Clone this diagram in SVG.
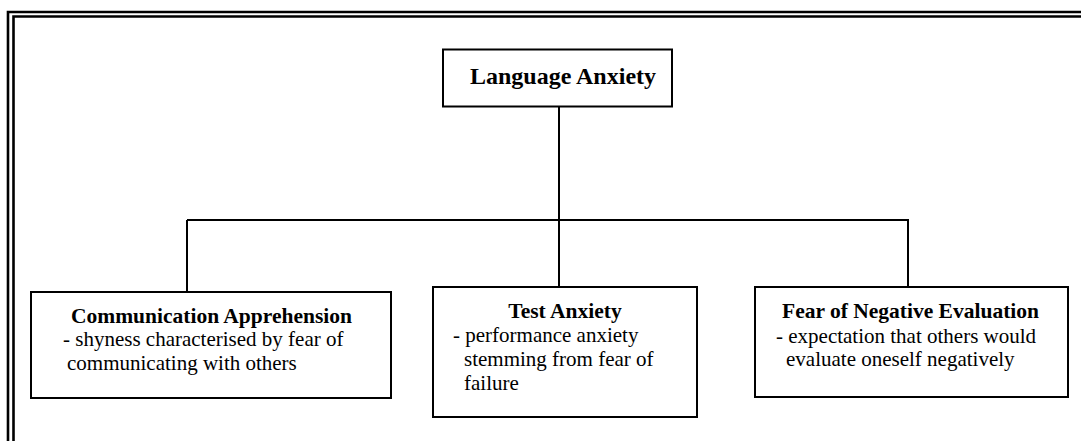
<svg xmlns="http://www.w3.org/2000/svg" width="1081" height="441" viewBox="0 0 1081 441">
<style>
.box{fill:#fff;stroke:#000;stroke-width:2}
.ln{fill:none;stroke:#000;stroke-width:2}
.frame{fill:none;stroke:#000;stroke-width:2.6}
text{font-family:Liberation Serif,Tinos,DejaVu Serif,serif;fill:#000}
.h{font-weight:bold;font-size:21.5px;text-anchor:middle}
.t{font-size:21px}
</style>
<g id="frame">
<path class="frame" d="M8,441 V12 H1081"/>
<path class="frame" d="M13.5,441 V16.5 H1081"/>
</g>
<g id="connectors">
<path class="ln" d="M559,106 V220"/>
<path class="ln" d="M187,220 H908"/>
<path class="ln" d="M187,220 V292"/>
<path class="ln" d="M559,220 V287"/>
<path class="ln" d="M908,219 V287"/>
</g>
<g id="language-anxiety">
<rect class="box" x="443" y="49.5" width="229" height="57"/>
<text x="470" y="84" font-weight="bold" font-size="24">Language Anxiety</text>
</g>
<g id="communication-apprehension">
<rect class="box" x="31" y="292" width="360" height="106"/>
<text class="h" x="211.5" y="323">Communication Apprehension</text>
<text class="t" x="63" y="346">- shyness characterised by fear of</text>
<text class="t" x="67" y="370">communicating with others</text>
</g>
<g id="test-anxiety">
<rect class="box" x="433" y="287" width="264" height="130"/>
<text class="h" x="565" y="318">Test Anxiety</text>
<text class="t" x="453" y="342">- performance anxiety</text>
<text class="t" x="464" y="366">stemming from fear of</text>
<text class="t" x="464" y="390">failure</text>
</g>
<g id="fear-of-negative-evaluation">
<rect class="box" x="755" y="287" width="313" height="110"/>
<text class="h" x="910.5" y="318">Fear of Negative Evaluation</text>
<text class="t" x="776" y="343">- expectation that others would</text>
<text class="t" x="786" y="366">evaluate oneself negatively</text>
</g>
</svg>
